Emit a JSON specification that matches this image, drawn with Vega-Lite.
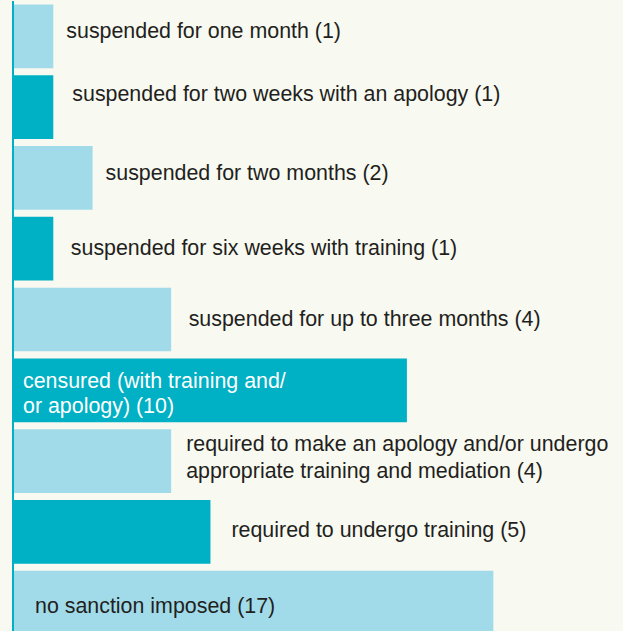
{
  "$schema": "https://vega.github.io/schema/vega-lite/v6.json",
  "width": 609,
  "height": 637,
  "autosize": {"type": "none"},
  "padding": {"left": 14, "top": 1, "right": 0, "bottom": 0},
  "background": "#f8f9f1",
  "config": {"view": {"stroke": null}, "font": "Liberation Sans", "text": {"fontSize": 21.4, "align": "left", "baseline": "middle", "color": "#231f20"}},
  "data": {
    "values": [
      {"id": 1, "sanction": "suspended for one month", "count": 1, "drawn": 1, "label": "suspended for one month (1)", "shade": "light"},
      {"id": 2, "sanction": "suspended for two weeks with an apology", "count": 1, "drawn": 1, "label": "suspended for two weeks with an apology (1)", "shade": "dark"},
      {"id": 3, "sanction": "suspended for two months", "count": 2, "drawn": 2, "label": "suspended for two months (2)", "shade": "light"},
      {"id": 4, "sanction": "suspended for six weeks with training", "count": 1, "drawn": 1, "label": "suspended for six weeks with training (1)", "shade": "dark"},
      {"id": 5, "sanction": "suspended for up to three months", "count": 4, "drawn": 4, "label": "suspended for up to three months (4)", "shade": "light"},
      {"id": 6, "sanction": "censured (with training and/or apology)", "count": 10, "drawn": 10, "label": ["censured (with training and/", "or apology) (10)"], "shade": "dark"},
      {"id": 7, "sanction": "required to make an apology and/or undergo appropriate training and mediation", "count": 4, "drawn": 4, "label": ["required to make an apology and/or undergo", "appropriate training and mediation (4)"], "shade": "light"},
      {"id": 8, "sanction": "required to undergo training", "count": 5, "drawn": 5, "label": "required to undergo training (5)", "shade": "dark"},
      {"id": 9, "sanction": "no sanction imposed", "count": 17, "drawn": 12.2, "label": "no sanction imposed (17)", "shade": "light"}
    ]
  },
  "encoding": {
    "y": {"field": "sanction", "type": "nominal", "sort": null, "axis": null,
          "scale": {"paddingInner": 0.1, "paddingOuter": 0.05}}
  },
  "layer": [
    {
      "mark": {"type": "bar", "cornerRadius": 0},
      "encoding": {
        "x": {"field": "drawn", "type": "quantitative", "axis": null, "scale": {"domain": [0, 15.5], "nice": false}},
        "color": {"field": "shade", "type": "nominal", "legend": null,
                  "scale": {"domain": ["light", "dark"], "range": ["#a1dbea", "#00b0c4"]}}
      }
    },
    {
      "mark": {"type": "rule", "color": "#00b0c4", "strokeWidth": 2, "xOffset": -1},
      "encoding": {"x": {"datum": 0, "type": "quantitative"}, "y": null}
    },
    {
      "transform": [{"filter": "datum.id == 1 || datum.id == 3"}],
      "mark": {"type": "text", "dx": 13, "dy": -4},
      "encoding": {"x": {"field": "drawn", "type": "quantitative"}, "text": {"field": "label"}}
    },
    {
      "transform": [{"filter": "datum.id == 2"}],
      "mark": {"type": "text", "dx": 19, "dy": -12},
      "encoding": {"x": {"field": "drawn", "type": "quantitative"}, "text": {"field": "label"}}
    },
    {
      "transform": [{"filter": "datum.id == 4 || datum.id == 5"}],
      "mark": {"type": "text", "dx": 17.5, "dy": 0},
      "encoding": {"x": {"field": "drawn", "type": "quantitative"}, "text": {"field": "label"}}
    },
    {
      "transform": [{"filter": "datum.id == 7"}],
      "mark": {"type": "text", "dx": 15, "dy": -16, "lineHeight": 27},
      "encoding": {"x": {"field": "drawn", "type": "quantitative"}, "text": {"field": "label"}}
    },
    {
      "transform": [{"filter": "datum.id == 8"}],
      "mark": {"type": "text", "dx": 21, "dy": -1},
      "encoding": {"x": {"field": "drawn", "type": "quantitative"}, "text": {"field": "label"}}
    },
    {
      "transform": [{"filter": "datum.id == 6"}],
      "mark": {"type": "text", "dx": 9, "dy": -8, "lineHeight": 25, "color": "#ffffff"},
      "encoding": {"x": {"datum": 0, "type": "quantitative"}, "text": {"field": "label"}}
    },
    {
      "transform": [{"filter": "datum.id == 9"}],
      "mark": {"type": "text", "dx": 21, "dy": 4},
      "encoding": {"x": {"datum": 0, "type": "quantitative"}, "text": {"field": "label"}}
    }
  ]
}
